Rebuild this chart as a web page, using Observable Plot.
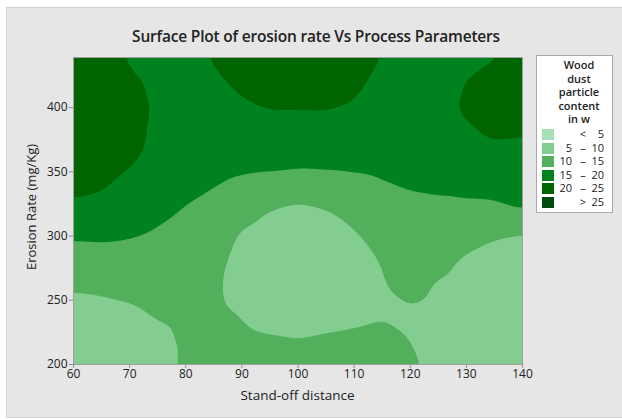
<!DOCTYPE html>
<html><head><meta charset="utf-8">
<script src="https://cdn.jsdelivr.net/npm/d3@7"></script>
<script src="https://cdn.jsdelivr.net/npm/@observablehq/plot@0.6"></script>
<style>
body{margin:0;background:#fff;}
#wrap{position:relative;width:622px;height:419px;overflow:hidden;background:#fff;font-family:"Open Sans",sans-serif;color:#222;}
#panel{position:absolute;left:6px;top:7px;width:616px;height:411px;background:#e6e6e6;border-left:1px solid #d2d2d2;border-top:1px solid #d2d2d2;border-bottom:1px solid #d2d2d2;box-sizing:border-box}
#title{position:absolute;left:0;width:632px;top:25px;text-align:center;font-size:15.5px;font-weight:600;color:#222;letter-spacing:-0.2px}
#chart{position:absolute;left:0;top:0}
#xlabel{position:absolute;left:73px;width:449px;top:386px;text-align:center;font-size:13.5px}
#ylabel{position:absolute;left:31px;top:207px;transform:translate(-50%,-50%) rotate(-90deg);font-size:13px;white-space:nowrap}
#legend{position:absolute;left:536px;top:55px;width:77px;height:158px;background:#fff;border:1px solid #a8a8a8;box-sizing:border-box;font-size:11px}
#legend .lt{position:absolute;left:0;width:84px;text-align:center;font-weight:600;line-height:13.5px;top:2px}
#legend .sw{position:absolute;left:5px;width:12px;height:11px}
#legend .a{position:absolute;width:30px;text-align:right;left:5px}
#legend .s{position:absolute;width:12px;text-align:center;left:40px}
#legend .b{position:absolute;width:30px;text-align:right;left:37px}
</style></head>
<body>
<div id="wrap">
<div id="panel"></div>
<div id="title">Surface Plot of erosion rate Vs Process Parameters</div>
<div id="chart"></div>
<div id="xlabel">Stand-off distance</div>
<div id="ylabel">Erosion Rate (mg/Kg)</div>
<div id="legend"></div>
</div>
<script>
// Grid sample positions (stand-off distance, erosion rate)
const xs = [60,65,70,75,80,85,90,95,100,105,110,115,120,125,130,135,140];
const ys = [200,220,240,260,280,300,320,340,360,380,400,420,440];
// Wood dust particle content read at each grid node, one row per erosion rate
const z200 = [10.5,9.2,8.2,8.0,10.94,11.2,11.0,11.0,10.8,11.0,11.2,11.0,10.9,8.5,8.0,7.8,7.8];
const z220 = [8.33,7.75,7.94,9.18,10.64,10.8,10.47,10.23,10.04,10.3,10.5,10.8,9.95,8.6,8.1,7.9,7.9];
const z240 = [8.52,8.89,9.31,10.41,10.7,10.6,9.9,9.0,8.7,9.0,9.3,9.75,9.5,8.9,8.4,8.1,8.0];
const z260 = [10.34,10.56,11.04,11.76,11.5,10.6,8.8,7.57,7.3,7.6,8.1,9.7,11.2,9.6,8.8,8.5,8.4];
const z280 = [12.84,13.06,13.13,13.11,12.6,11.4,8.4,6.87,6.2,6.6,7.8,10.3,11.7,10.98,9.3,9.1,9.0];
const z300 = [15.44,15.61,15.2,14.46,13.64,12.5,9.43,8.36,6.3,7.2,9.5,11.8,12.9,12.6,11.54,10.1,9.3];
const z320 = [19.4,18.9,17.16,15.85,14.77,13.83,11.6,9.85,8.7,9.8,11.76,13.3,14.1,14.2,14.1,14.0,15.1];
const z340 = [20.68,20.42,19.12,17.28,15.94,15.17,14.27,13.8,13.3,13.6,14.12,14.8,15.3,15.6,16.1,16.5,16.75];
const z360 = [21.81,21.54,20.56,18.7,17.12,16.5,16.22,16.13,15.96,16.04,16.05,16.0,16.3,16.8,17.8,18.6,18.5];
const z380 = [22.94,22.66,21.59,18.94,18.3,17.83,17.9,18.28,18.2,18.24,17.73,17.0,17.3,18.0,19.5,20.6,20.3];
const z400 = [23.4,23.38,21.76,19.38,18.8,18.85,19.58,20.23,20.25,20.3,19.75,18.0,18.2,18.9,20.57,21.4,21.0];
const z420 = [23.2,22.89,20.66,19.44,19.2,19.55,20.6,21.36,21.53,21.4,20.8,19.06,18.8,19.3,20.05,20.9,20.8];
const z440 = [23.0,22.4,19.3,19.1,19.4,20.2,22.0,22.5,22.8,22.3,21.8,19.9,19.2,19.6,19.4,19.8,20.3];

const thresholds = [0,5,10,15,20,25];
const bandColors = ["#a6e0b6","#82cd8f","#52af5b","#00821f","#006400","#004c0f"];
const legendLow = ["","5","10","15","20",""];
const legendSym = ["<","–","–","–","–",">"];
const legendHigh = ["5","10","15","20","25","25"];
const legendTitle = ["Wood","dust","particle","content","in w"];
const xTicks = [60,70,80,90,100,110,120,130,140];
const yTicks = [200,250,300,350,400];

const rows = [z200,z220,z240,z260,z280,z300,z320,z340,z360,z380,z400,z420,z440];
const points = [];
rows.forEach((row, j) => row.forEach((z, i) => points.push({x: xs[i], y: ys[j], z})));

const chart = Plot.plot({
  width: 622, height: 419,
  marginLeft: 73, marginRight: 100, marginTop: 57, marginBottom: 55,
  style: {background: "transparent", fontFamily: "Open Sans, sans-serif", fontSize: "12px", color: "#222"},
  x: {domain: [60, 140]},
  y: {domain: [200, 439]},
  color: {type: "ordinal", domain: thresholds, range: bandColors},
  marks: [
    Plot.contour(points, {
      x: "x", y: "y", fill: "z",
      interpolate: "barycentric", pixelSize: 1, blur: 6,
      thresholds, stroke: "none", clip: true
    }),
    Plot.frame({stroke: "#a0a0a0"}),
    Plot.axisX({ticks: xTicks, tickSize: 4, tickPadding: 1, label: null, stroke: "#909090"}),
    Plot.axisY({ticks: yTicks, tickSize: 4, tickPadding: 2, label: null, stroke: "#909090"})
  ]
});
document.getElementById("chart").appendChild(chart);

const lg = document.getElementById("legend");
const t = document.createElement("div");
t.className = "lt";
t.innerHTML = legendTitle.join("<br>");
lg.appendChild(t);
bandColors.forEach((c, i) => {
  const top = 73 + i*13.5;
  const sw = document.createElement("div");
  sw.className = "sw"; sw.style.top = top + "px"; sw.style.background = c;
  lg.appendChild(sw);
  [["a", legendLow[i]], ["s", legendSym[i]], ["b", legendHigh[i]]].forEach(([cl, txt]) => {
    const d = document.createElement("div");
    d.className = cl; d.textContent = txt;
    d.style.top = (top - 3) + "px";
    lg.appendChild(d);
  });
});
</script>
</body></html>
